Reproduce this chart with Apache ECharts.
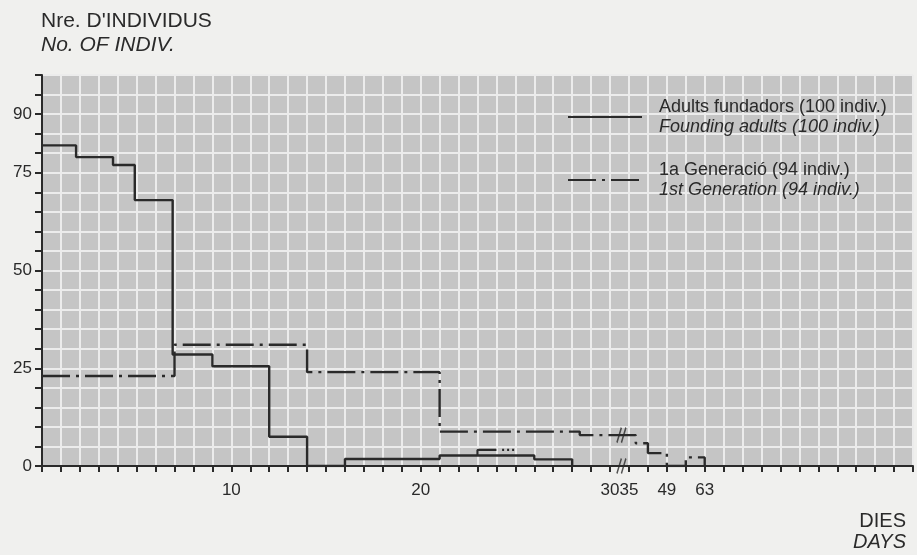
<!DOCTYPE html>
<html>
<head>
<meta charset="utf-8">
<script src="https://cdn.jsdelivr.net/npm/echarts@6/dist/echarts.min.js"></script>
<style>
html,body{margin:0;padding:0;background:#f0f0ee;}
#chart{width:917px;height:555px;}
</style>
</head>
<body>
<div id="chart"></div>
<script>
// ---- data (days, number of individuals) ----
const foundersDays  = [0, 1.8, 3.75, 4.9, 6.9, 9, 12, 14, 16, 21, 26, 28];
const foundersCount = [82, 79, 77, 68, 28.5, 25.5, 7.5, 0, 1.8, 2.7, 1.7, 0];
const firstGenDays  = [0, 7, 14, 21, 28.4, 37.5, 42, 49, 56, 63];
const firstGenCount = [23, 31, 24, 8.8, 7.9, 5.8, 3.3, 0, 2.2, 0];
// small extra trace around day 23-25
const extraDays   = [23, 23, 24];
const extraCount  = [2.7, 4.1, 4.1];
const extraDotDays  = [24.3, 25];
const extraDotCount = [4.1, 4.1];
// tick labels
const xLabelDays = [10, 20, 30, 35, 49, 63];
const yLabelValues = [0, 25, 50, 75, 90];
// axis break location (days, count)
const breakDays = [33, 33];
const breakCount = [0, 7.9];

const seriesNames = ['Adults fundadors (100 indiv.)', '1a Generació (94 indiv.)'];
const seriesEnglish = ['Founding adults (100 indiv.)', '1st Generation (94 indiv.)'];

// axis scale: days 0..30 linear, then one tick per week from day 35
function toPos(d) { return d <= 30 ? d : (d < 35 ? 30 + (d - 30) / 5 : 31 + (d - 35) / 7); }
function toDay(p) { return p <= 30 ? p : 35 + (p - 31) * 7; }
function pairs(xs, ys) { return xs.map((x, i) => [toPos(x), ys[i]]); }

const ink = '#2a2a2a';
const font = '"Liberation Sans", Arial, sans-serif';

const chart = echarts.init(document.getElementById('chart'), null, {renderer: 'canvas'});
chart.setOption({
  backgroundColor: '#f0f0ee',
  animation: false,
  title: {
    left: 41, top: 9, padding: 0,
    text: "{a|Nre. D'INDIVIDUS}\n{b|No. OF INDIV.}",
    textStyle: {
      fontWeight: 'normal',
      rich: {
        a: {fontSize: 21, fontFamily: font, color: ink, lineHeight: 24, fontWeight: 'normal'},
        b: {fontSize: 21, fontFamily: font, color: ink, fontStyle: 'italic', lineHeight: 24, fontWeight: 'normal'}
      }
    }
  },
  legend: {
    orient: 'vertical', left: 567, top: 98, padding: 0,
    itemWidth: 74, itemHeight: 14, itemGap: 25,
    data: seriesNames,
    itemStyle: {opacity: 0},
    formatter: function (name) {
      const i = seriesNames.indexOf(name);
      return '{a|' + name + '}\n{b|' + seriesEnglish[i] + '}';
    },
    textStyle: {
      rich: {
        a: {fontSize: 18, fontFamily: font, color: ink, lineHeight: 20, padding: [0, 0, 0, 12]},
        b: {fontSize: 18, fontFamily: font, color: ink, fontStyle: 'italic', lineHeight: 20, padding: [0, 0, 0, 12]}
      }
    }
  },
  graphic: [{
    type: 'text', right: 11, top: 511,
    style: {
      text: '{a|DIES}\n{b|DAYS}', align: 'right',
      rich: {
        a: {fontSize: 20, fontFamily: font, fill: ink, lineHeight: 21, align: 'right'},
        b: {fontSize: 20, fontFamily: font, fill: ink, fontStyle: 'italic', lineHeight: 21, align: 'right'}
      }
    }
  }],
  grid: {
    left: 42, right: 4, top: 75, bottom: 89,
    show: true, backgroundColor: '#c5c5c5', borderWidth: 0
  },
  xAxis: {
    type: 'value', min: 0, max: 46, interval: 1,
    axisLine: {show: true, onZero: false, lineStyle: {color: ink, width: 2}},
    axisTick: {show: true, length: 6, lineStyle: {color: ink, width: 2}},
    axisLabel: {
      margin: 16, fontSize: 17, fontFamily: font, color: ink,
      formatter: function (p) {
        const d = Math.round(toDay(p));
        return xLabelDays.indexOf(d) >= 0 && Math.abs(toPos(d) - p) < 1e-6 ? String(d) : '';
      }
    },
    splitLine: {show: true, lineStyle: {color: '#ececec', width: 2}}
  },
  yAxis: {
    type: 'value', min: 0, max: 100, interval: 5,
    axisLine: {show: true, lineStyle: {color: ink, width: 2}},
    axisTick: {show: true, length: 7, lineStyle: {color: ink, width: 2}},
    axisLabel: {
      margin: 10, fontSize: 17, fontFamily: font, color: ink,
      formatter: function (v) { return yLabelValues.indexOf(v) >= 0 ? String(v) : ''; }
    },
    splitLine: {show: true, lineStyle: {color: '#ececec', width: 2}}
  },
  series: [
    {
      name: seriesNames[0], type: 'line', step: 'end', symbol: 'none',
      data: pairs(foundersDays, foundersCount),
      lineStyle: {color: ink, width: 2.4}, itemStyle: {color: ink}, z: 5
    },
    {
      name: seriesNames[1], type: 'line', step: 'end', symbol: 'none',
      data: pairs(firstGenDays, firstGenCount),
      lineStyle: {color: ink, width: 2.4, type: [28, 6, 3, 6]}, itemStyle: {color: ink}, z: 5
    },
    {
      name: 'extra', type: 'line', symbol: 'none',
      data: pairs(extraDays, extraCount),
      lineStyle: {color: ink, width: 2.2}, z: 5
    },
    {
      name: 'extraDots', type: 'line', symbol: 'none',
      data: pairs(extraDotDays, extraDotCount),
      lineStyle: {color: ink, width: 2.2, type: [2, 3]}, z: 5
    },
    {
      name: 'break', type: 'scatter',
      data: pairs(breakDays, breakCount),
      symbol: 'path://M0,14 L5,0 M5,14 L10,0', symbolSize: [9, 15],
      itemStyle: {color: 'rgba(0,0,0,0)', borderColor: ink, borderWidth: 1.8}, z: 6
    }
  ]
});
</script>
</body>
</html>
